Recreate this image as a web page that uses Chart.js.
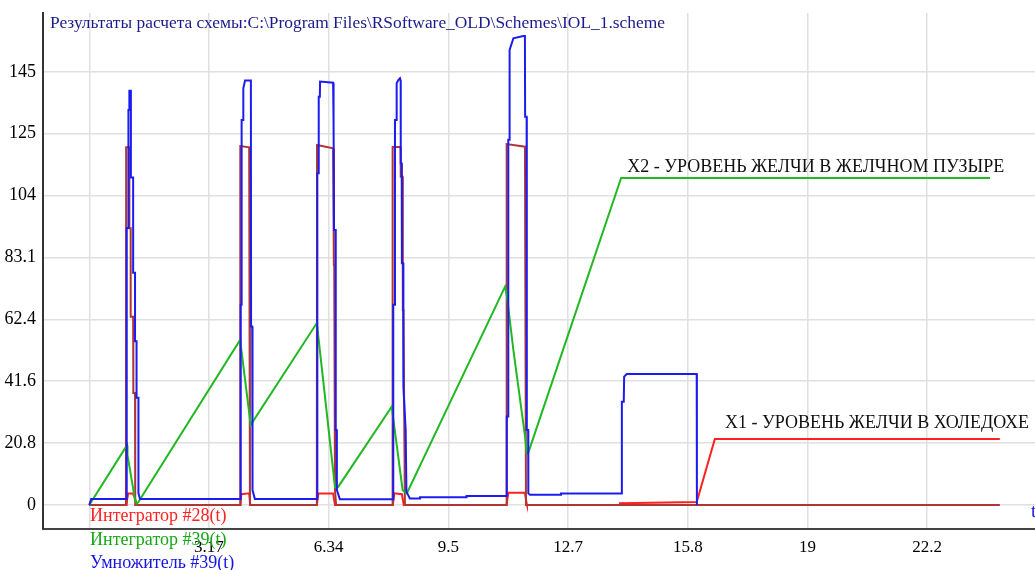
<!DOCTYPE html>
<html>
<head>
<meta charset="utf-8">
<script src="https://cdn.jsdelivr.net/npm/chart.js@4.4.0/dist/chart.umd.min.js"></script>
<style>
  body { margin: 0; background: #fff; }
  #wrap { width: 1035px; height: 570px; }
</style>
</head>
<body>
<div id="wrap"><canvas id="plot" width="1035" height="570"></canvas></div>
<script>
// t-axis ticks (step 19/6) and value-axis ticks (step 20.78)
var xTickValues = [0, 3.1667, 6.3333, 9.5, 12.6667, 15.8333, 19, 22.1667];
var xTickLabels = ['', '3.17', '6.34', '9.5', '12.7', '15.8', '19', '22.2'];
var yTickValues = [0, 20.78, 41.56, 62.34, 83.12, 103.9, 124.68, 145.46];
var yTickLabels = ['0', '20.8', '41.6', '62.4', '83.1', '104', '125', '145'];

// Интегратор #39(t) - X2, level in the gallbladder
var greenT = [0, 1.00, 1.01, 1.21, 1.25, 1.29, 3.99, 4.27, 6.02, 6.50, 6.58, 8.00, 8.29, 8.40,
              11.00, 11.05, 11.22, 11.53, 11.57, 11.61, 14.07, 23.83];
var greenV = [0, 20.1, 16.8, 1.7, 0.5, 0.8, 55.4, 26.9, 61.1, 6.0, 6.0, 33.0, 5.0, 3.9,
              73.3, 70.0, 52.0, 22.9, 17.4, 17.4, 109.8, 109.8];

// Умножитель #39(t)
var blueT = [0, 0.05, 0.98, 0.99, 1.03, 1.035, 1.055, 1.06, 1.10, 1.10, 1.16, 1.16, 1.21, 1.21, 1.25, 1.25, 1.30, 1.30, 1.34,
             4.00, 4.005, 4.03, 4.03, 4.07, 4.075, 4.12, 4.275, 4.28, 4.31, 4.31, 4.32, 4.325, 4.38,
             6.03, 6.033, 6.07, 6.07, 6.10, 6.105, 6.45, 6.455, 6.47, 6.475, 6.52, 6.52, 6.545, 6.55, 6.63,
             8.04, 8.042, 8.085, 8.087, 8.13, 8.132, 8.175, 8.22, 8.238, 8.24, 8.265, 8.27, 8.305, 8.31, 8.37, 8.39, 8.48,
             8.75, 8.75, 9.98, 9.98,
             11.04, 11.045, 11.08, 11.085, 11.11, 11.12, 11.22, 11.48, 11.525, 11.53, 11.57, 11.575, 11.61, 11.615, 11.66,
             12.48, 12.48, 14.085, 14.09, 14.14, 14.15, 14.22, 16.07, 16.075];
var blueV = [0, 2.0, 2.0, 93, 93, 132.6, 132.6, 139.1, 139.1, 110, 110, 78, 78, 55, 55, 36, 36, 4, 2.0,
             2.0, 67.2, 67.2, 129.3, 129.3, 139.9, 142.5, 142.5, 59.9, 59.9, 33.6, 33.6, 5.0, 2.0,
             2.0, 111.4, 111.4, 137.1, 137.1, 142.2, 141.8, 128.2, 128.2, 92.3, 92.3, 25.2, 25.2, 5.0, 1.9,
             1.9, 67.2, 67.2, 129.3, 129.3, 141.6, 142.7, 143.3, 142.5, 114.7, 114.7, 81.2, 81.2, 39.7, 25.2, 4.5, 2.2,
             2.2, 2.6, 2.6, 3.0,
             3.0, 29.7, 29.7, 122.6, 122.6, 152.8, 156.7, 157.5, 157.5, 130.4, 130.4, 25.2, 25.2, 3.9, 3.4,
             3.4, 3.9, 3.9, 34.7, 34.7, 43.1, 44.0, 44.0, 0];

// dark red pulses
var pulseT = [0, 0.97, 0.975, 1.06, 1.06, 1.095, 1.095, 1.16, 1.165, 1.21, 1.215,
              3.99, 3.995, 4.23, 4.25,
              6.02, 6.025, 6.45, 6.47, 6.48, 6.50, 6.53,
              8.02, 8.025, 8.235, 8.24, 8.29, 8.295, 8.31, 8.35,
              11.04, 11.042, 11.526, 11.553, 24.09];
var pulseV = [0, 0, 120.1, 120.1, 92.9, 92.9, 63.2, 63.2, 37.6, 37.6, 0,
              0, 120.5, 120.1, 0,
              0, 120.9, 119.8, 80.6, 80.6, 5, 0,
              0, 120.2, 120.2, 110.2, 110.2, 65.5, 65.5, 0,
              0, 121.2, 120.3, 0, 0];

// Интегратор #28(t) - X1, level in the choledoch
var redT = [0, 0.99, 1.00, 1.03, 1.15, 1.21, 1.25, 1.27,
            4.00, 4.02, 4.23, 4.26,
            6.02, 6.06, 6.45, 6.50,
            8.03, 8.07, 8.27, 8.32,
            11.04, 11.085, 11.525, 11.57, 11.58,
            14.03, 14.04, 16.07, 16.55, 24.09];
var redV = [0, 0, 1.7, 3.9, 3.9, 2.2, 0.5, 0,
            0, 3.6, 3.9, 0,
            0, 3.9, 3.9, 0,
            0, 3.9, 3.6, 0,
            0, 4.1, 4.1, 0.5, 0,
            0, 0.6, 1.0, 22.2, 22.2];

var legendNames = ['Интегратор #28(t)', 'Интегратор #39(t)', 'Умножитель #39(t)'];
var legendColors = ['#ff2020', '#14a814', '#1414e6'];
var titleText = 'Результаты расчета схемы:C:\\Program Files\\RSoftware_OLD\\Schemes\\IOL_1.scheme';
var noteX2 = 'X2 - УРОВЕНЬ ЖЕЛЧИ В ЖЕЛЧНОМ ПУЗЫРЕ';
var noteX1 = 'X1 - УРОВЕНЬ ЖЕЛЧИ В ХОЛЕДОХЕ';

function toPoints(ts, vs) {
  var pts = [];
  for (let i = 0; i < ts.length; i++) {
    pts.push({x: ts[i], y: vs[i]});
  }
  return pts;
}

var serif = '"Liberation Serif", "Times New Roman", serif';

// legend, title and notes are plain coloured text in the original
var textPlugin = {
  id: 'schemeText',
  afterDraw: function(chart) {
    var ctx = chart.ctx;
    var xs = chart.scales.x, ys = chart.scales.y;
    ctx.save();
    ctx.textAlign = 'left';
    ctx.textBaseline = 'alphabetic';

    ctx.font = '17.4px ' + serif;
    ctx.fillStyle = '#1a1a8c';
    ctx.fillText(titleText, 50, 28);

    ctx.font = '18px ' + serif;
    ctx.fillStyle = '#111';
    ctx.fillText(noteX2, xs.getPixelForValue(14.23), ys.getPixelForValue(109.8) - 6);
    ctx.fillText(noteX1, xs.getPixelForValue(16.82), ys.getPixelForValue(22.2) - 11);

    ctx.font = '18px ' + serif;
    var baselines = [521, 545, 568];
    for (let i = 0; i < legendNames.length; i++) {
      ctx.fillStyle = legendColors[i];
      ctx.fillText(legendNames[i], 90, baselines[i]);
    }

    ctx.font = '19px ' + serif;
    ctx.fillStyle = '#1414c8';
    ctx.fillText('t', 1031, 517);
    ctx.restore();
  }
};

var lineStyle = {
  fill: false,
  pointRadius: 0,
  pointHoverRadius: 0,
  borderWidth: 2,
  tension: 0
};

var chart = new Chart(document.getElementById('plot'), {
  type: 'line',
  data: {
    datasets: [
      Object.assign({label: legendNames[2], data: toPoints(blueT, blueV), borderColor: '#1c1cf0'}, lineStyle),
      Object.assign({label: legendNames[1], data: toPoints(greenT, greenV), borderColor: '#22b822'}, lineStyle),
      Object.assign({label: 'pulse', data: toPoints(pulseT, pulseV), borderColor: '#b03535'}, lineStyle),
      Object.assign({label: legendNames[0], data: toPoints(redT, redV), borderColor: '#ff2020'}, lineStyle)
    ]
  },
  options: {
    responsive: false,
    animation: false,
    devicePixelRatio: 1,
    layout: { padding: { top: 13, left: 0, right: 0, bottom: 0 } },
    plugins: {
      legend: { display: false },
      title: { display: false },
      tooltip: { enabled: false }
    },
    scales: {
      x: {
        type: 'linear',
        min: -1.225,
        max: 25.02,
        afterBuildTicks: function(s) { s.ticks = xTickValues.map(function(v) { return {value: v}; }); },
        afterFit: function(s) { s.height = 41; s.paddingLeft = 0; s.paddingRight = 0; },
        ticks: {
          autoSkip: false,
          maxRotation: 0,
          padding: 8,
          color: '#000',
          font: { family: serif, size: 17 },
          callback: function(v, i) { return xTickLabels[i]; }
        },
        grid: { color: '#e0e0e0', lineWidth: 1.5, drawTicks: false },
        border: { display: true, color: '#444', width: 2 }
      },
      y: {
        type: 'linear',
        min: -8.06,
        max: 165.2,
        afterBuildTicks: function(s) { s.ticks = yTickValues.map(function(v) { return {value: v}; }); },
        afterFit: function(s) { s.width = 43; s.paddingTop = 0; s.paddingBottom = 0; },
        ticks: {
          autoSkip: false,
          padding: 7,
          color: '#000',
          font: { family: serif, size: 18 },
          callback: function(v, i) { return yTickLabels[i]; }
        },
        grid: { color: '#e0e0e0', lineWidth: 1.5, drawTicks: false },
        border: { display: true, color: '#333', width: 2 }
      }
    }
  },
  plugins: [textPlugin]
});
</script>
</body>
</html>
